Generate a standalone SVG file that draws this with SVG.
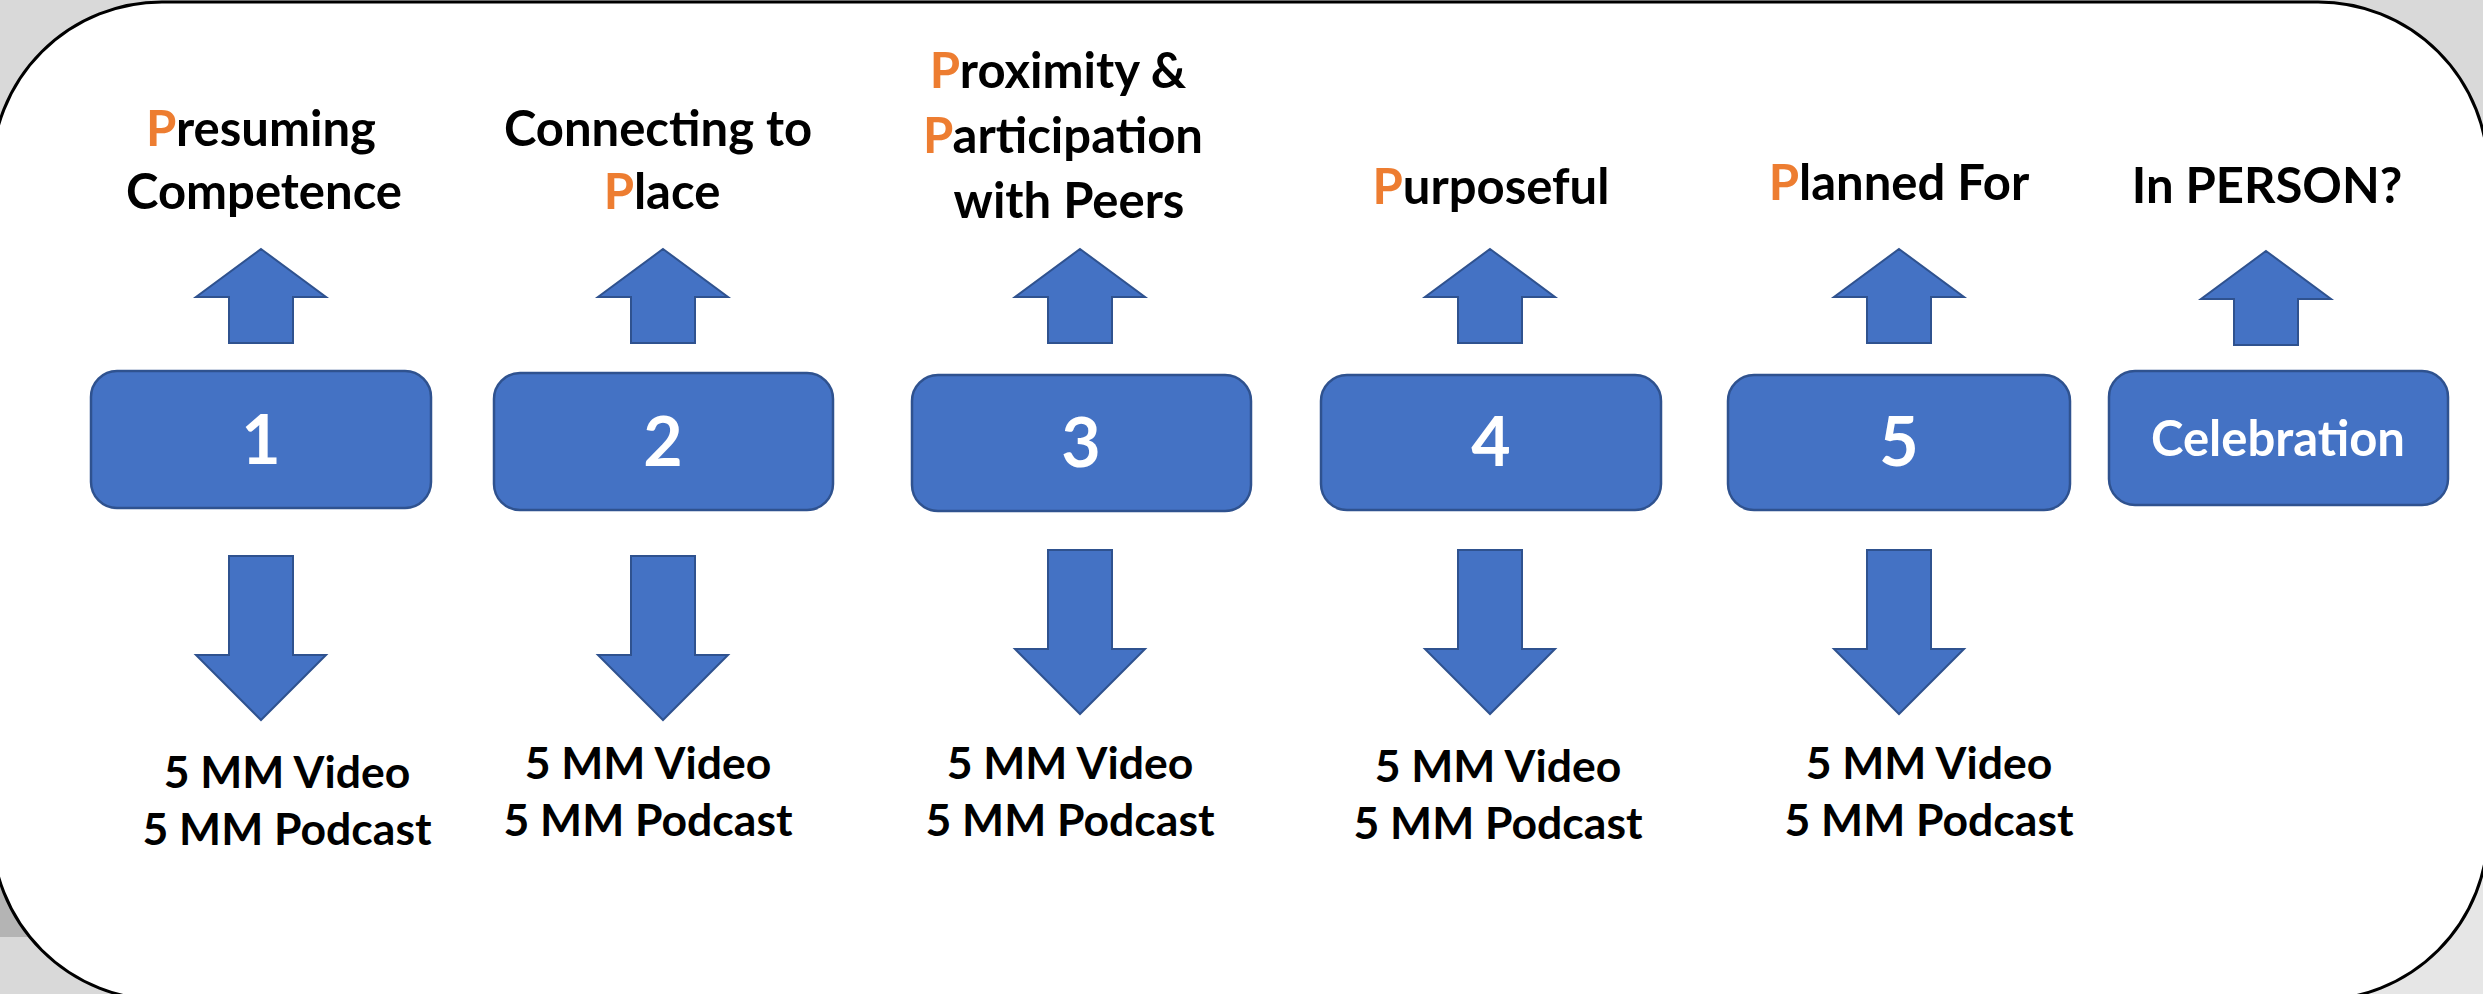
<svg xmlns="http://www.w3.org/2000/svg" xmlns:xlink="http://www.w3.org/1999/xlink" width="2483" height="994" viewBox="0 0 2483 994">
<style>
.box{fill:#4472C4;stroke:#2F528F;stroke-width:2.5}
.arr{fill:#4472C4;stroke:#2F528F;stroke-width:2}
.num{font-family:Lato,"Open Sans",sans-serif;font-weight:700;font-size:68px;fill:#fff;text-anchor:middle}
.cel{font-family:Lato,"Open Sans",sans-serif;font-weight:700;font-size:49px;fill:#fff;text-anchor:middle}
.top{font-family:Lato,"Open Sans",sans-serif;font-weight:700;font-size:49px;fill:#000;text-anchor:middle}
.bot{font-family:Lato,"Open Sans",sans-serif;font-weight:700;font-size:44.5px;fill:#000;text-anchor:middle}
.o{fill:#ED7D31}
</style>
<defs>
<path id="up" d="M0,0 L65,48 L32,48 L32,94 L-32,94 L-32,48 L-65,48 Z"/>
<path id="down" d="M-32,0 L32,0 L32,99 L65,99 L0,164 L-65,99 L-32,99 Z"/>
</defs>
<rect x="0" y="0" width="2483" height="994" fill="#D9D9D9"/>
<rect x="0" y="600" width="80" height="337" fill="#B4B4B4"/>
<rect x="2300" y="700" width="183" height="294" fill="#E6E6E6"/>
<rect x="-8" y="2" width="2496" height="998" rx="170" ry="170" fill="#FFFFFF" stroke="#000" stroke-width="3"/>

<g id="connectors">
<use xlink:href="#up" href="#up" class="arr" x="261" y="249"/>
<use xlink:href="#up" href="#up" class="arr" x="663" y="249"/>
<use xlink:href="#up" href="#up" class="arr" x="1080" y="249"/>
<use xlink:href="#up" href="#up" class="arr" x="1490" y="249"/>
<use xlink:href="#up" href="#up" class="arr" x="1899" y="249"/>
<use xlink:href="#up" href="#up" class="arr" x="2266" y="251"/>
<use xlink:href="#down" href="#down" class="arr" x="261" y="556"/>
<use xlink:href="#down" href="#down" class="arr" x="663" y="556"/>
<use xlink:href="#down" href="#down" class="arr" x="1080" y="550"/>
<use xlink:href="#down" href="#down" class="arr" x="1490" y="550"/>
<use xlink:href="#down" href="#down" class="arr" x="1899" y="550"/>
</g>

<g id="box1"><rect class="box" x="91" y="371" width="340" height="137" rx="26"/><text class="num" x="261" y="464">1</text></g>
<g id="box2"><rect class="box" x="494" y="373" width="339" height="137" rx="26"/><text class="num" x="663" y="466">2</text></g>
<g id="box3"><rect class="box" x="912" y="375" width="339" height="136" rx="26"/><text class="num" x="1081" y="467">3</text></g>
<g id="box4"><rect class="box" x="1321" y="375" width="340" height="135" rx="26"/><text class="num" x="1491" y="466">4</text></g>
<g id="box5"><rect class="box" x="1728" y="375" width="342" height="135" rx="26"/><text class="num" x="1899" y="466">5</text></g>
<g id="box6"><rect class="box" x="2109" y="371" width="339" height="134" rx="26"/><text class="cel" x="2278" y="456">Celebration</text></g>

<g id="label1"><text class="top" x="261" y="146"><tspan class="o">P</tspan>resuming</text><text class="top" x="264" y="209">Competence</text></g>
<g id="label2"><text class="top" x="658" y="146">Connecting to</text><text class="top" x="662" y="209"><tspan class="o">P</tspan>lace</text></g>
<g id="label3"><text class="top" x="1058" y="88"><tspan class="o">P</tspan>roximity &amp;</text><text class="top" x="1063" y="153"><tspan class="o">P</tspan>articipation</text><text class="top" x="1069" y="218">with Peers</text></g>
<g id="label4"><text class="top" x="1491" y="204"><tspan class="o">P</tspan>urposeful</text></g>
<g id="label5"><text class="top" x="1899" y="200"><tspan class="o">P</tspan>lanned For</text></g>
<g id="label6"><text class="top" x="2267" y="203">In PERSON?</text></g>

<g id="media1"><text class="bot" x="287" y="788">5 MM Video</text><text class="bot" x="287" y="845">5 MM Podcast</text></g>
<g id="media2"><text class="bot" x="648" y="779">5 MM Video</text><text class="bot" x="648" y="836">5 MM Podcast</text></g>
<g id="media3"><text class="bot" x="1070" y="779">5 MM Video</text><text class="bot" x="1070" y="836">5 MM Podcast</text></g>
<g id="media4"><text class="bot" x="1498" y="782">5 MM Video</text><text class="bot" x="1498" y="839">5 MM Podcast</text></g>
<g id="media5"><text class="bot" x="1929" y="779">5 MM Video</text><text class="bot" x="1929" y="836">5 MM Podcast</text></g>
</svg>
